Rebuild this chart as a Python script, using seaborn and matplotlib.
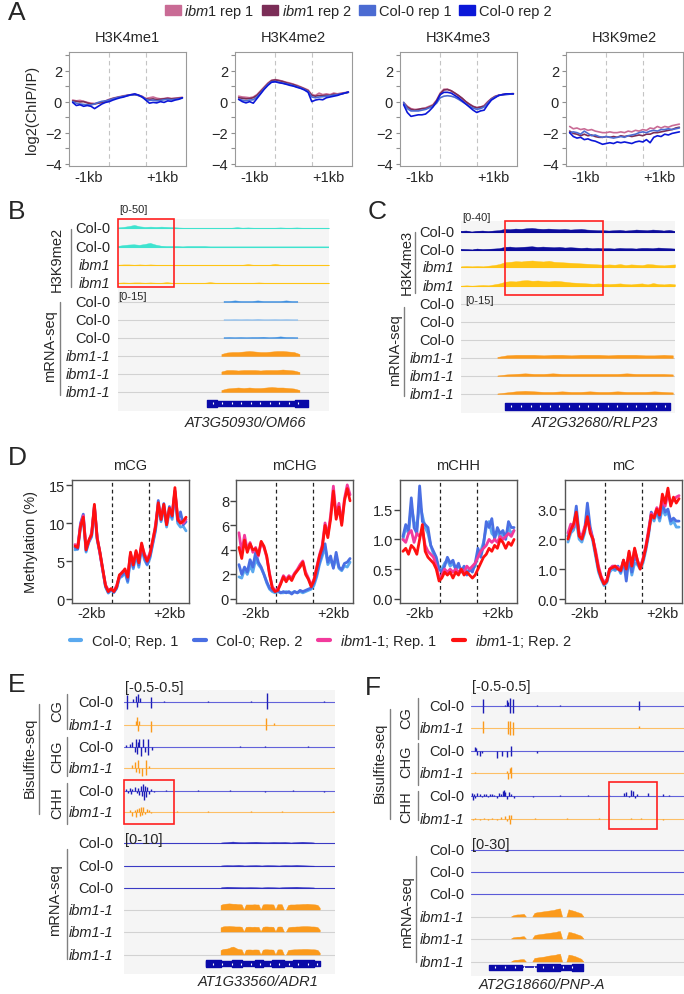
import numpy as np
import pandas as pd
import matplotlib
matplotlib.use("Agg")
import matplotlib.pyplot as plt
import seaborn as sns
from matplotlib.patches import Patch, Rectangle
from matplotlib.lines import Line2D

# ---------------- data ----------------
# panel A: ChIP metaplots, 31 bins (upstream 0-20, gene body 20-40, downstream 40-60)
a_x = np.arange(0, 61, 2)
a_marks = ["H3K4me1", "H3K4me2", "H3K4me3", "H3K9me2"]
a_samples = ["ibm1 rep 1", "ibm1 rep 2", "Col-0 rep 1", "Col-0 rep 2"]

me1_ibm1 = [0.10, 0.05, 0.08, 0.02, -0.05, -0.10, -0.12, -0.08, -0.05, 0.05, 0.15, 0.22, 0.28, 0.33, 0.38, 0.42, 0.45, 0.48, 0.42, 0.35, 0.20, 0.25, 0.30, 0.22, 0.18, 0.20, 0.25, 0.20, 0.22, 0.25, 0.28]
me1_ibm2 = [0.05, 0.02, -0.02, 0.00, -0.08, -0.15, -0.15, -0.10, -0.05, 0.02, 0.12, 0.20, 0.25, 0.30, 0.35, 0.40, 0.43, 0.45, 0.40, 0.30, 0.18, 0.15, 0.18, 0.12, 0.15, 0.18, 0.20, 0.18, 0.20, 0.22, 0.25]
me1_col1 = [0.00, -0.10, -0.15, -0.18, -0.20, -0.22, -0.15, -0.05, 0.02, 0.05, 0.10, 0.18, 0.25, 0.30, 0.35, 0.40, 0.42, 0.45, 0.40, 0.32, 0.15, 0.08, 0.10, 0.05, 0.08, 0.12, 0.15, 0.12, 0.15, 0.18, 0.22]
me1_col2 = [-0.05, -0.25, -0.20, -0.30, -0.25, -0.30, -0.45, -0.30, -0.15, -0.05, 0.00, 0.10, 0.18, 0.25, 0.30, 0.38, 0.45, 0.50, 0.42, 0.30, 0.10, -0.10, -0.05, -0.08, 0.00, -0.05, 0.05, 0.02, 0.10, 0.15, 0.25]

me2_ibm1 = [0.35, 0.30, 0.28, 0.25, 0.30, 0.45, 0.70, 0.95, 1.20, 1.38, 1.42, 1.38, 1.32, 1.25, 1.20, 1.12, 1.05, 0.95, 0.85, 0.75, 0.45, 0.40, 0.55, 0.45, 0.50, 0.45, 0.55, 0.50, 0.55, 0.58, 0.62]
me2_ibm2 = [0.25, 0.22, 0.18, 0.20, 0.25, 0.40, 0.65, 0.90, 1.15, 1.35, 1.40, 1.35, 1.30, 1.22, 1.15, 1.10, 1.00, 0.92, 0.82, 0.70, 0.40, 0.35, 0.40, 0.38, 0.42, 0.40, 0.48, 0.45, 0.50, 0.55, 0.60]
me2_col1 = [0.15, 0.10, 0.05, 0.10, 0.12, 0.30, 0.55, 0.85, 1.10, 1.28, 1.30, 1.25, 1.20, 1.15, 1.10, 1.02, 0.95, 0.88, 0.78, 0.65, 0.30, 0.25, 0.30, 0.32, 0.35, 0.38, 0.42, 0.45, 0.50, 0.55, 0.60]
me2_col2 = [0.15, 0.00, -0.08, 0.00, -0.10, 0.20, 0.50, 0.80, 1.05, 1.25, 1.28, 1.22, 1.18, 1.12, 1.05, 1.00, 0.92, 0.85, 0.75, 0.60, 0.00, 0.10, 0.15, 0.12, 0.25, 0.30, 0.35, 0.40, 0.48, 0.55, 0.62]

me3_ibm1 = [-0.05, -0.30, -0.45, -0.50, -0.50, -0.45, -0.40, -0.30, -0.20, 0.10, 0.55, 0.80, 0.80, 0.70, 0.55, 0.38, 0.20, 0.00, -0.15, -0.30, -0.38, -0.35, -0.25, 0.00, 0.20, 0.35, 0.42, 0.45, 0.48, 0.50, 0.50]
me3_ibm2 = [-0.10, -0.35, -0.50, -0.55, -0.50, -0.45, -0.45, -0.35, -0.25, 0.05, 0.50, 0.75, 0.78, 0.70, 0.55, 0.40, 0.22, 0.00, -0.18, -0.32, -0.40, -0.35, -0.30, -0.05, 0.18, 0.32, 0.40, 0.45, 0.48, 0.50, 0.52]
me3_col1 = [-0.05, -0.45, -0.60, -0.60, -0.60, -0.55, -0.50, -0.40, -0.30, -0.10, 0.25, 0.35, 0.38, 0.35, 0.28, 0.15, 0.00, -0.15, -0.30, -0.42, -0.50, -0.45, -0.35, -0.10, 0.15, 0.30, 0.40, 0.45, 0.45, 0.48, 0.50]
me3_col2 = [-0.20, -0.70, -0.95, -0.90, -0.85, -0.85, -0.80, -0.60, -0.35, 0.00, 0.45, 0.60, 0.60, 0.55, 0.40, 0.25, 0.05, -0.15, -0.35, -0.55, -0.70, -0.60, -0.55, -0.20, 0.10, 0.25, 0.40, 0.45, 0.50, 0.50, 0.50]

k9_ibm1 = [-1.60, -1.75, -1.70, -1.80, -1.75, -1.85, -1.80, -1.90, -1.95, -2.00, -2.00, -1.95, -2.00, -2.00, -1.95, -2.00, -1.90, -1.95, -1.85, -1.90, -1.80, -1.85, -1.70, -1.75, -1.60, -1.70, -1.60, -1.65, -1.55, -1.50, -1.45]
k9_ibm2 = [-1.90, -2.05, -2.10, -2.20, -2.10, -2.20, -2.15, -2.25, -2.30, -2.30, -2.25, -2.30, -2.25, -2.30, -2.20, -2.25, -2.20, -2.25, -2.20, -2.15, -2.20, -2.10, -2.10, -2.00, -2.00, -1.95, -1.90, -1.85, -1.80, -1.70, -1.65]
k9_col1 = [-2.00, -1.95, -2.00, -2.10, -1.90, -2.05, -2.20, -2.15, -2.25, -2.30, -2.25, -2.30, -2.35, -2.30, -2.25, -2.30, -2.20, -2.15, -2.10, -2.00, -1.95, -2.00, -1.90, -1.85, -1.90, -1.80, -1.80, -1.75, -1.80, -1.75, -1.70]
k9_col2 = [-2.00, -2.25, -2.35, -2.30, -2.45, -2.40, -2.50, -2.55, -2.65, -2.75, -2.70, -2.65, -2.70, -2.60, -2.65, -2.60, -2.65, -2.70, -2.60, -2.55, -2.60, -2.45, -2.65, -2.30, -2.20, -2.25, -2.10, -2.15, -2.05, -2.00, -1.95]

# panel D: methylation metaplots, 41 bins (upstream 0-20, gene 20-40, downstream 40-60)
d_x = np.arange(0, 60.1, 1.5)
d_contexts = ["mCG", "mCHG", "mCHH", "mC"]
d_samples = ["Col-0; Rep. 1", "Col-0; Rep. 2", "ibm1-1; Rep. 1", "ibm1-1; Rep. 2"]

cg_col1 = [6.5, 6.6, 9.4, 10.5, 6.2, 7.5, 8.2, 12.0, 7.8, 6.0, 3.8, 1.6, 0.8, 1.2, 0.9, 1.4, 2.8, 3.0, 3.5, 2.2, 5.6, 4.0, 5.8, 4.2, 6.8, 5.2, 4.5, 5.4, 7.2, 9.0, 12.2, 10.2, 12.0, 9.5, 11.5, 10.5, 14.0, 10.0, 9.5, 9.6, 9.0]
cg_col2 = [6.8, 6.6, 10.0, 11.2, 6.4, 7.6, 8.4, 12.3, 8.0, 6.1, 3.9, 1.7, 0.9, 1.3, 0.9, 1.5, 2.9, 3.2, 3.8, 2.4, 5.8, 4.2, 6.2, 4.5, 7.0, 5.5, 4.6, 5.6, 7.4, 9.2, 13.0, 10.4, 12.6, 9.8, 12.2, 10.8, 14.2, 10.3, 11.5, 9.8, 10.2]
cg_ibm1 = [7.2, 7.0, 9.8, 11.0, 6.8, 7.6, 8.8, 12.2, 8.2, 6.0, 3.8, 1.9, 1.2, 1.3, 1.1, 1.8, 3.0, 3.6, 3.8, 3.1, 6.0, 4.7, 6.2, 5.0, 7.2, 6.0, 5.2, 6.1, 7.6, 9.8, 12.5, 10.8, 12.2, 10.0, 11.8, 11.2, 14.3, 10.8, 10.2, 10.0, 10.5]
cg_ibm2 = [7.0, 6.8, 9.6, 10.8, 6.5, 7.8, 8.5, 12.5, 8.0, 6.2, 4.0, 1.8, 1.0, 1.4, 1.0, 1.6, 3.2, 3.5, 4.0, 2.9, 6.2, 4.5, 6.4, 4.8, 7.4, 5.8, 5.0, 5.9, 7.8, 9.5, 12.7, 10.5, 12.5, 9.8, 12.0, 11.0, 14.7, 10.5, 10.0, 10.3, 10.8]

chg_col1 = [1.8, 1.7, 2.4, 2.0, 2.7, 2.2, 3.2, 2.8, 2.5, 2.0, 1.3, 0.8, 0.6, 0.5, 0.6, 0.5, 0.5, 0.6, 0.5, 0.5, 0.6, 0.5, 0.6, 0.5, 0.6, 0.7, 0.8, 1.1, 1.8, 2.8, 3.5, 4.2, 2.8, 3.2, 2.6, 3.4, 2.5, 2.3, 2.7, 2.6, 3.0]
chg_col2 = [2.8, 2.0, 2.6, 2.2, 3.2, 2.6, 3.8, 3.0, 2.6, 2.0, 1.4, 0.9, 0.7, 0.6, 0.7, 0.5, 0.6, 0.5, 0.6, 0.4, 0.6, 0.5, 0.7, 0.6, 0.7, 0.8, 0.9, 1.3, 2.0, 3.0, 3.8, 4.5, 3.0, 3.5, 2.5, 3.8, 2.6, 2.4, 2.9, 3.0, 3.3]
chg_ibm1 = [5.4, 3.8, 5.2, 4.0, 4.6, 3.8, 4.2, 3.5, 4.6, 4.2, 3.4, 2.1, 1.0, 0.7, 0.8, 1.3, 1.9, 1.6, 1.9, 1.7, 2.1, 2.4, 2.8, 3.1, 2.2, 1.7, 1.1, 1.6, 2.6, 3.6, 4.4, 6.2, 5.2, 6.8, 9.2, 6.8, 7.8, 6.2, 8.2, 9.3, 8.5]
chg_ibm2 = [4.2, 3.3, 4.8, 3.8, 4.5, 4.0, 4.1, 3.6, 4.7, 4.3, 3.5, 2.0, 0.9, 0.6, 0.7, 1.2, 1.8, 1.4, 1.8, 1.5, 2.0, 2.3, 2.6, 3.0, 2.0, 1.6, 1.0, 1.5, 2.5, 3.5, 4.2, 6.0, 5.0, 6.5, 8.8, 6.5, 7.5, 6.0, 8.0, 9.0, 8.0]

chh_col1 = [1.0, 1.2, 1.1, 1.55, 1.3, 1.2, 1.6, 1.4, 1.2, 1.1, 0.9, 0.75, 0.65, 0.5, 0.5, 0.6, 0.65, 0.55, 0.6, 0.5, 0.55, 0.5, 0.5, 0.45, 0.5, 0.5, 0.55, 0.75, 0.8, 0.95, 1.2, 1.3, 1.1, 1.05, 1.15, 1.0, 1.1, 1.05, 1.2, 1.1, 1.15]
chh_col2 = [1.05, 1.25, 1.15, 1.7, 1.2, 1.1, 1.9, 1.3, 1.25, 1.2, 0.9, 0.8, 0.7, 0.5, 0.45, 0.55, 0.7, 0.6, 0.65, 0.5, 0.6, 0.45, 0.55, 0.4, 0.5, 0.45, 0.6, 0.85, 0.7, 0.9, 1.3, 1.2, 1.35, 1.0, 1.2, 1.1, 1.15, 1.0, 1.3, 1.2, 1.2]
chh_ibm1 = [1.0, 0.95, 1.1, 1.15, 0.95, 1.1, 1.05, 1.15, 0.9, 0.8, 0.75, 0.7, 0.55, 0.35, 0.4, 0.5, 0.45, 0.5, 0.45, 0.5, 0.45, 0.5, 0.45, 0.55, 0.5, 0.55, 0.6, 0.7, 0.8, 0.85, 0.9, 1.0, 0.95, 1.0, 0.95, 1.05, 1.0, 1.05, 1.1, 1.05, 1.15]
chh_ibm2 = [0.8, 0.85, 0.75, 0.9, 0.85, 0.75, 1.0, 1.25, 0.8, 0.7, 0.65, 0.6, 0.5, 0.3, 0.35, 0.45, 0.4, 0.45, 0.35, 0.45, 0.4, 0.5, 0.4, 0.45, 0.4, 0.35, 0.4, 0.5, 0.6, 0.7, 0.75, 0.85, 0.8, 0.9, 0.85, 1.0, 0.95, 0.85, 0.95, 0.9, 1.0]

mc_col1 = [1.9, 2.2, 2.3, 2.6, 2.0, 1.9, 2.2, 2.9, 2.3, 1.9, 1.4, 0.9, 0.65, 0.45, 0.55, 0.9, 1.0, 0.95, 1.05, 0.85, 1.2, 0.9, 1.3, 0.8, 1.2, 1.15, 1.0, 1.2, 1.6, 2.1, 2.8, 2.6, 2.9, 2.6, 3.0, 2.8, 2.9, 2.5, 2.6, 2.4, 2.4]
mc_col2 = [2.1, 2.3, 2.4, 3.1, 2.2, 2.0, 2.3, 3.2, 2.4, 2.0, 1.5, 1.0, 0.7, 0.5, 0.6, 1.0, 1.05, 1.0, 1.1, 0.9, 1.3, 0.6, 1.4, 0.9, 1.5, 1.2, 1.05, 1.3, 1.7, 2.2, 2.9, 2.7, 3.0, 2.7, 3.2, 2.9, 3.0, 2.6, 2.7, 2.6, 2.6]
mc_ibm1 = [2.2, 2.5, 2.4, 2.8, 2.2, 2.1, 2.4, 2.6, 2.3, 2.0, 1.6, 1.1, 0.75, 0.55, 0.65, 1.0, 1.1, 1.1, 1.05, 1.0, 1.25, 1.05, 1.55, 1.15, 1.65, 1.3, 1.05, 1.35, 1.75, 2.3, 2.85, 2.75, 3.05, 2.9, 3.3, 3.1, 3.5, 3.2, 3.3, 3.4, 3.45]
mc_ibm2 = [2.0, 2.3, 2.5, 2.9, 2.1, 2.0, 2.3, 2.75, 2.2, 2.0, 1.5, 1.0, 0.7, 0.5, 0.6, 1.0, 1.05, 1.1, 1.0, 0.95, 1.3, 1.0, 1.6, 1.1, 1.7, 1.3, 1.0, 1.3, 1.7, 2.2, 2.8, 2.7, 3.0, 2.8, 3.5, 3.2, 3.7, 3.1, 3.4, 3.2, 3.35]

# panel B: H3K9me2 [0-50] coverage (40 bins over the locus, % of window) and mRNA [0-15]
b_k9_col1 = [2, 4, 7, 11, 6, 4, 5, 4, 5, 4, 3, 2, 1, 1, 1, 1, 1, 1, 1, 1, 1, 1, 3, 1, 2, 1, 1, 1, 1, 1, 2, 1, 1, 2, 1, 1, 1, 1, 1, 1]
b_k9_col2 = [2, 5, 7, 8, 6, 9, 13, 7, 3, 1, 1, 1, 0, 1, 1, 1, 1, 0, 1, 1, 1, 1, 1, 1, 1, 1, 1, 1, 1, 1, 1, 1, 1, 1, 1, 1, 1, 1, 1, 1]
b_k9_ibm1 = [1, 2, 2, 1, 2, 1, 2, 1, 1, 1, 1, 1, 1, 1, 1, 1, 1, 1, 1, 1, 1, 1, 1, 1, 3, 1, 1, 1, 1, 4, 1, 1, 1, 1, 1, 1, 1, 1, 1, 1]
b_k9_ibm2 = [1, 2, 1, 2, 2, 1, 2, 1, 1, 3, 1, 1, 1, 1, 1, 1, 1, 3, 1, 1, 1, 1, 1, 1, 1, 1, 2, 1, 1, 1, 1, 1, 1, 1, 1, 1, 1, 1, 1, 1]
b_rna_col1 = [1, 1, 1.5, 1, 1, 1, 1.5, 1, 1, 1, 1, 1.5, 1, 1]
b_rna_col2 = [0.8, 0.8, 1, 0.8, 1, 0.8, 1.2, 0.8, 0.8, 1, 0.8, 1, 0.8, 0.8]
b_rna_col3 = [0.8, 1, 0.8, 1, 0.8, 1, 1, 1.2, 0.8, 1, 1.5, 1, 1, 0.8]
b_rna_ibm1 = [2, 3.5, 4, 4, 4.5, 5, 4.5, 4, 4, 4.5, 5, 5, 4.5, 4, 2]
b_rna_ibm2 = [2.5, 4, 4, 3.5, 4, 4, 4, 3.5, 4, 4, 4, 4.5, 4, 3.5, 2]
b_rna_ibm3 = [2, 3.5, 4, 4.5, 4, 4.5, 4, 4, 4.5, 5, 4.5, 4.5, 4, 3.5, 2]

# panel C: H3K4me3 [0-40] coverage and mRNA [0-15]
c_k4_col1 = [2, 3, 0, 2, 3, 1, 3, 4, 8, 7, 9, 8, 10, 11, 9, 8, 9, 8, 7, 8, 6, 7, 8, 6, 5, 4, 4, 3, 4, 5, 3, 4, 6, 5, 4, 6, 5, 3, 5, 2]
c_k4_col2 = [2, 1, 0, 3, 1, 2, 3, 4, 8, 9, 7, 8, 9, 10, 8, 9, 8, 7, 8, 6, 7, 6, 5, 6, 4, 5, 4, 4, 3, 5, 4, 4, 3, 5, 5, 4, 6, 5, 4, 3]
c_k4_ibm1 = [2, 3, 2, 3, 2, 4, 6, 9, 15, 16, 18, 17, 19, 20, 18, 17, 19, 16, 15, 14, 13, 12, 11, 10, 9, 8, 7, 8, 7, 9, 6, 8, 7, 6, 9, 8, 6, 5, 7, 8]
c_k4_ibm2 = [1, 2, 1, 2, 3, 2, 5, 8, 13, 15, 14, 17, 18, 16, 17, 15, 14, 16, 15, 13, 11, 10, 9, 8, 7, 8, 7, 6, 7, 8, 6, 5, 7, 8, 5, 9, 6, 5, 7, 5]
c_rna_ibm1 = [1, 2.5, 3, 3, 3, 2.5, 3, 3, 2.5, 3, 3, 3, 2.5, 3, 3, 3, 2.5, 2.5, 3, 2.5]
c_rna_ibm2 = [0.5, 1.5, 2, 2.5, 2, 2, 2.5, 2, 2, 2, 2, 2, 2, 2, 2.5, 2, 2, 2, 2, 1.5]
c_rna_ibm3 = [0.5, 1.5, 2.5, 3, 2.5, 2, 2, 2.5, 2, 2, 2.5, 2, 2, 2.5, 2, 2, 2, 2.5, 2, 1.5]

# panel E: bisulfite-seq [-0.5-0.5] (position %, value) and mRNA [0-10]
e_cg_col_pos = [1.5, 1.5, 4.5, 5.5, 6, 6.5, 7.5, 13, 13, 19, 40, 60, 68, 68, 95]
e_cg_col_val = [0.4, -0.4, 0.15, 0.35, -0.25, 0.45, 0.2, 0.3, -0.35, 0.05, 0.04, 0.04, 0.5, -0.4, 0.04]
e_cg_ibm_pos = [5.5, 6, 6.5, 7, 13, 13, 67.5, 67.5, 71]
e_cg_ibm_val = [0.2, 0.45, -0.35, 0.25, 0.2, -0.4, 0.4, -0.25, 0.1]
e_chg_col_pos = [1, 3, 4, 5, 5.5, 6, 6.5, 7, 8, 9, 10, 11.5, 11.5, 13.5, 55, 67, 87]
e_chg_col_val = [0.1, 0.15, 0.3, -0.3, 0.45, -0.4, 0.3, 0.45, -0.5, 0.45, -0.3, 0.45, -0.45, -0.15, 0.04, 0.06, 0.04]
e_chg_ibm_pos = [4, 5, 5.5, 6.5, 7, 8.5, 10.5, 10.5, 12]
e_chg_ibm_val = [0.15, 0.35, -0.2, 0.45, -0.3, -0.45, 0.45, -0.4, 0.1]
e_chh_col_pos = [1, 2, 3, 3.5, 4, 5, 6, 6.5, 7, 8, 8.5, 9, 9.5, 10, 10.5, 11, 12, 13, 14, 20, 35, 50, 67, 80, 95]
e_chh_col_val = [0.1, -0.1, 0.15, -0.15, 0.1, 0.2, -0.1, 0.15, -0.2, 0.25, -0.3, 0.4, -0.5, 0.3, -0.35, 0.2, -0.15, 0.1, -0.05, 0.03, 0.03, 0.03, -0.06, 0.03, -0.05]
e_chh_ibm_pos = [3, 4, 5, 5.5, 6, 7, 7.5, 8, 8.5, 9, 10, 11, 12, 13, 25, 40, 60, 75, 99]
e_chh_ibm_val = [0.1, -0.2, 0.1, -0.3, 0.15, 0.2, -0.25, 0.25, -0.15, 0.3, -0.1, 0.15, 0.1, -0.05, 0.04, 0.03, 0.03, 0.04, 0.05]
e_rna_col1 = [0.3, 0.5, 0.8, 0.5, 0.4, 0.6, 0.7, 0.5, 0.4, 0.6, 0.5, 0.6, 0.3, 0.5, 0.7, 0.5, 0.3]
e_rna_col2 = [0.3, 0.5, 0.4, 0.6, 0.3, 0.4, 0.5, 0.3, 0.5, 0.4, 0.3, 0.5, 0.4, 0.6, 0.4, 0.3, 0.2]
e_rna_col3 = [0.4, 0.7, 0.6, 0.5, 0.4, 0.5, 0.4, 0.3, 0.5, 0.4, 0.3, 0.5, 0.6, 0.7, 0.5, 0.4, 0.3]
e_rna_ibm1 = [2.5, 3, 3.2, 3.3, 3.4, 3.3, 3.2, 3.2, 3, 3, 2.8, 0, 2.8, 2.8, 2.8, 2.8, 2.9, 2.8, 2.8, 0, 2.8, 3, 3, 2.9, 2.9, 2.8, 0, 2.9, 3, 2.9, 0, 0, 2.5, 2.8, 2.8, 2.8, 2.9, 2.9, 3, 3.1, 3.1, 3.2, 3.1, 3, 2.9, 2.8, 2.5, 1]
e_rna_ibm2 = [2.3, 2.8, 3, 3, 3.1, 3, 2.9, 2.8, 2.8, 2.8, 2.6, 0, 2.6, 2.7, 2.7, 2.6, 2.7, 2.6, 2.6, 0, 2.6, 2.8, 2.8, 2.7, 2.7, 2.6, 0, 2.7, 2.8, 2.7, 0, 0, 2.3, 2.6, 2.7, 2.7, 2.8, 2.8, 2.9, 3, 3, 3, 2.9, 2.8, 2.8, 2.7, 2.4, 1]
e_rna_ibm3 = [2.5, 3, 3.2, 3.3, 3.6, 4.2, 4.4, 3.8, 3.2, 3, 2.8, 0, 2.7, 2.8, 2.8, 2.7, 2.8, 2.8, 2.7, 0, 2.7, 2.9, 2.9, 2.8, 2.8, 2.7, 0, 2.8, 2.9, 2.8, 0, 0, 2.5, 2.7, 2.8, 2.9, 2.9, 3, 3, 3.1, 3.1, 3.1, 3, 2.9, 2.9, 2.8, 2.5, 1]

# panel F: bisulfite-seq [-0.5-0.5] and mRNA [0-30]
f_cg_col_pos = [5.6, 5.6, 16, 17, 17.5, 18.5, 18.5, 19.5, 19.5, 31, 42, 79, 79]
f_cg_col_val = [0.4, -0.4, 0.05, 0.35, 0.2, 0.45, -0.4, 0.4, -0.4, 0.08, 0.08, 0.3, -0.2]
f_cg_ibm_pos = [5.6, 5.6, 17.5, 17.5, 18.5, 18.5, 19.5, 19.5, 79]
f_cg_ibm_val = [0.4, -0.3, 0.4, -0.35, 0.4, -0.4, 0.35, -0.4, 0.12]
f_chg_col_pos = [2, 2.5, 3, 4, 5, 12, 14.5, 17, 19, 19, 31]
f_chg_col_val = [0.25, 0.15, -0.2, -0.3, -0.1, -0.4, -0.3, -0.35, 0.3, -0.3, -0.1]
f_chg_ibm_pos = [2, 17, 17.5, 18.5, 19, 19]
f_chg_ibm_val = [0.05, 0.1, -0.35, 0.3, 0.35, -0.3]
f_chh_col_pos = [0.5, 1, 1.5, 2, 3, 4, 5, 6, 7, 8, 9, 10, 11, 12, 13, 14, 15, 15.5, 16, 17, 18, 19, 20, 29, 42, 55, 65, 72, 73, 74, 75, 76, 77, 78, 83, 90, 93]
f_chh_col_val = [0.15, -0.2, 0.1, -0.1, 0.15, 0.1, -0.05, 0.1, 0.12, -0.08, 0.1, 0.12, 0.08, -0.1, 0.15, 0.1, 0.3, 0.35, 0.2, -0.15, 0.2, 0.1, -0.1, -0.04, 0.04, 0.04, 0.05, 0.15, 0.2, -0.05, 0.35, 0.3, -0.1, 0.1, 0.15, 0.1, 0.08]
f_chh_ibm_pos = [1, 2, 4, 6, 8, 10, 12, 14, 16, 17, 18, 18.5, 19, 30, 45, 60, 75, 80, 90]
f_chh_ibm_val = [-0.08, 0.05, -0.05, 0.05, -0.05, 0.05, -0.08, 0.1, 0.15, -0.1, 0.25, -0.25, 0.2, 0.03, 0.03, 0.03, 0.03, 0.04, -0.05]
f_rna_ibm1 = [0, 2, 3, 3.5, 3.5, 4, 4.5, 0, 0, 0, 0, 6, 7, 7.5, 8, 8.5, 9, 9.5, 10, 10.5, 11, 12, 13, 13.5, 0, 0, 0, 12, 11, 10, 9, 7.5, 6.5, 5, 0]
f_rna_ibm2 = [0, 2, 2.5, 3, 3, 3.5, 4, 0, 0, 0, 0, 5.5, 6.5, 7, 7.5, 8, 8.5, 9, 9.5, 10, 10.5, 11, 12, 12.5, 0, 0, 0, 11, 10.5, 9.5, 8.5, 7, 6, 4.5, 0]
f_rna_ibm3 = [0, 2, 3, 3, 3.5, 4, 4, 0, 0, 0, 0, 6, 6.5, 7, 7.5, 8, 8.5, 9.5, 10, 10.5, 11, 11.5, 12.5, 13, 0, 0, 0, 11.5, 11, 10, 9, 7.5, 6, 4.5, 0]

# ---------------- style ----------------
sns.set_style("white")
plt.rcParams["font.family"] = ["Liberation Sans", "DejaVu Sans"]
plt.rcParams["mathtext.fontset"] = "custom"
plt.rcParams["mathtext.rm"] = "Liberation Sans"
plt.rcParams["mathtext.it"] = "Liberation Sans:italic"

W, H = 684, 995
fig = plt.figure(figsize=(W / 100, H / 100), dpi=100)


def box(l, t, w, h):
    return [l / W, 1 - (t + h) / H, w / W, h / H]


def txt(x, y, s, **kw):
    kw.setdefault("va", "center")
    fig.text(x / W, 1 - y / H, s, **kw)


def gline(x, y0, y1):
    fig.add_artist(Line2D([x / W, x / W], [1 - y0 / H, 1 - y1 / H], color="#808080", lw=1.0))


FS = 10.5

# ---------------- panel A ----------------
a_colors = ["#c96b95", "#7b2d57", "#4b6bd2", "#0b17d8"]
a_series = [
    [me1_ibm1, me1_ibm2, me1_col1, me1_col2],
    [me2_ibm1, me2_ibm2, me2_col1, me2_col2],
    [me3_ibm1, me3_ibm2, me3_col1, me3_col2],
    [k9_ibm1, k9_ibm2, k9_col1, k9_col2],
]
a_left = [69, 235, 400, 566]
for i, mark in enumerate(a_marks):
    ax = fig.add_axes(box(a_left[i], 53, 117, 114))
    df = pd.concat([pd.DataFrame({"x": a_x, "y": s, "sample": n})
                    for s, n in zip(a_series[i], a_samples)])
    sns.lineplot(data=df, x="x", y="y", hue="sample", hue_order=a_samples,
                 palette=a_colors, estimator=None, lw=1.2, legend=False, ax=ax)
    for v in (20, 40):
        ax.axvline(v, color="#c4c4c4", ls=(0, (4, 3)), lw=0.8, zorder=0)
    ax.set_xlim(-2, 62)
    ax.set_ylim(-4.15, 3.2)
    ax.set_yticks([-4, -2, 0, 2])
    ax.set_yticks([-3, -1, 1, 3], minor=True)
    ax.set_xticks([9, 49])
    ax.set_xticklabels(["-1kb", "+1kb"])
    ax.tick_params(axis="y", which="both", left=True, length=3, width=0.8,
                   color="#909090", labelsize=FS, pad=2)
    ax.tick_params(axis="x", length=0, labelsize=FS, pad=3)
    ax.set_xlabel("")
    ax.set_ylabel("")
    ax.set_title(mark, fontsize=FS, pad=8)
    for s in ax.spines.values():
        s.set_color("#9a9a9a")
        s.set_linewidth(0.8)

txt(32, 110, "log2(ChIP/IP)", rotation=90, ha="center", fontsize=FS)
a_labels = [r"$\mathit{ibm1}$ rep 1", r"$\mathit{ibm1}$ rep 2", "Col-0 rep 1", "Col-0 rep 2"]
fig.legend(handles=[Patch(color=c) for c in a_colors], labels=a_labels, ncol=4,
           loc="center", bbox_to_anchor=(358 / W, 1 - 12 / H), frameon=False,
           fontsize=FS, handlelength=1.1, handleheight=0.75, handletextpad=0.25,
           columnspacing=0.5, borderpad=0)

# ---------------- panel D ----------------
d_colors = ["#5aa9ef", "#4a6fe3", "#f23a9c", "#ff1010"]
d_series = [
    [cg_col1, cg_col2, cg_ibm1, cg_ibm2],
    [chg_col1, chg_col2, chg_ibm1, chg_ibm2],
    [chh_col1, chh_col2, chh_ibm1, chh_ibm2],
    [mc_col1, mc_col2, mc_ibm1, mc_ibm2],
]
d_left = [72, 236, 400, 565]
d_ylim = [(-0.5, 15.7), (-0.33, 9.7), (-0.07, 2.0), (-0.13, 3.97)]
d_ticks = [[0, 5, 10, 15], [0, 2, 4, 6, 8], [0.0, 0.5, 1.0, 1.5], [0.0, 1.0, 2.0, 3.0]]
d_fmt = ["{:.0f}", "{:.0f}", "{:.1f}", "{:.1f}"]
for i, ctx in enumerate(d_contexts):
    ax = fig.add_axes(box(d_left[i], 481, 117, 123))
    df = pd.concat([pd.DataFrame({"x": d_x, "y": s, "sample": n})
                    for s, n in zip(d_series[i], d_samples)])
    sns.lineplot(data=df, x="x", y="y", hue="sample", hue_order=d_samples,
                 palette=d_colors, estimator=None, lw=2.0, legend=False, ax=ax)
    for v in (20, 40):
        ax.axvline(v, color="#222222", ls=(0, (3, 2.5)), lw=0.9, zorder=0)
    ax.set_xlim(-1.6, 61.6)
    ax.set_ylim(*d_ylim[i])
    ax.set_yticks(d_ticks[i])
    ax.set_yticklabels([d_fmt[i].format(t) for t in d_ticks[i]])
    ax.set_xticks([9, 51])
    ax.set_xticklabels(["-2kb", "+2kb"])
    ax.tick_params(axis="y", left=True, length=4, width=1, color="#444444",
                   labelsize=FS, pad=1)
    ax.tick_params(axis="x", length=0, labelsize=FS, pad=2)
    ax.set_xlabel("")
    ax.set_ylabel("")
    ax.set_title(ctx, fontsize=FS, pad=8)
    for s in ax.spines.values():
        s.set_color("#555555")
        s.set_linewidth(1.0)

txt(31, 542, "Methylation (%)", rotation=90, ha="center", fontsize=FS)
d_labels = ["Col-0; Rep. 1", "Col-0; Rep. 2",
            r"$\mathit{ibm1}$-$\mathit{1}$; Rep. 1", r"$\mathit{ibm1}$-$\mathit{1}$; Rep. 2"]
fig.legend(handles=[Line2D([], [], color=c, lw=3) for c in d_colors], labels=d_labels,
           ncol=4, loc="center", bbox_to_anchor=(321 / W, 1 - 642 / H), frameon=False,
           fontsize=FS, handlelength=0.8, handletextpad=0.7, columnspacing=1.1, borderpad=0)

# ---------------- browser tracks ----------------
ORANGE = "#fb9a1c"
GREY = "#d2d2d2"


def track_axes(x0, x1, y0, y1):
    ax = fig.add_axes(box(x0, y0, x1 - x0, y1 - y0))
    ax.set_xlim(0, 100)
    ax.set_ylim(y1, y0)
    ax.set_facecolor("#f5f5f5")
    ax.set_xticks([])
    ax.set_yticks([])
    for s in ax.spines.values():
        s.set_visible(False)
    return ax


def coverage(ax, span, vals, base, scale, color, line):
    ax.axhline(base, color=line, lw=0.8, zorder=1)
    if len(vals) == 0:
        return
    v = np.array(vals, dtype=float)
    xs = np.linspace(span[0], span[1], len(v))
    ax.fill_between(xs, base, base - v * scale, where=v > 0, interpolate=True,
                    color=color, lw=0.3, zorder=2)


def spikes(ax, pos, vals, base, scale, color, line):
    ax.axhline(base, color=line, lw=0.8, zorder=1)
    ax.vlines(pos, base, base - np.array(vals) * scale, color=color, lw=1.0, zorder=2)


def gene(ax, y, span, thin, thick, color="#0a0aa8", marks=True):
    ax.hlines(y, span[0], span[1], color=color, lw=1.2)
    ax.broken_barh([(s, e - s) for s, e in thin], (y - 2.5, 5), color=color)
    ax.broken_barh([(s, e - s) for s, e in thick], (y - 3.5, 7), color=color)
    if marks:
        ax.vlines(np.arange(span[0] + 3, span[1] - 1, 4.5), y - 0.6, y + 0.6,
                  color="white", lw=0.8)


def red_box(ax, x0, x1, y0, y1):
    ax.add_patch(Rectangle((x0, y0), x1 - x0, y1 - y0, fill=False,
                           ec="#ff2020", lw=1.2, clip_on=False, zorder=5))


def row_labels(x, ys, names):
    for y, n in zip(ys, names):
        txt(x, y, n, ha="right", fontsize=FS,
            style="italic" if n.startswith("ibm") else "normal")


# panel B
CYAN = "#3fe3cf"
GOLD = "#ffc414"
axb = track_axes(118, 329, 220, 412)
b_chip_y = [229, 248, 266, 284]
b_rna_y = [303, 321, 339, 357, 375, 393]
for y, v, c in zip(b_chip_y, [b_k9_col1, b_k9_col2, b_k9_ibm1, b_k9_ibm2],
                   [CYAN, CYAN, GOLD, GOLD]):
    coverage(axb, (0, 100), v, y, 14 / 50, c, c)
for y, v, c in zip(b_rna_y[:3], [b_rna_col1, b_rna_col2, b_rna_col3],
                   ["#3c8fe2", "#92c2f0", "#3c8fe2"]):
    coverage(axb, (50, 85), v, y, 16 / 15, c, GREY)
for y, v in zip(b_rna_y[3:], [b_rna_ibm1, b_rna_ibm2, b_rna_ibm3]):
    coverage(axb, (49, 86), v, y, 15 / 15, ORANGE, GREY)
gene(axb, 404, (42, 90), [(47, 84)], [(42, 47), (84, 90)])
red_box(axb, 0, 26.5, 220, 288)
row_labels(110, b_chip_y, ["Col-0", "Col-0", "ibm1", "ibm1"])
row_labels(110, b_rna_y, ["Col-0", "Col-0", "Col-0", "ibm1-1", "ibm1-1", "ibm1-1"])
txt(119, 210, "[0-50]", fontsize=8)
txt(118, 297, "[0-15]", fontsize=8)
txt(57, 259, "H3K9me2", rotation=90, ha="center", fontsize=FS)
gline(71, 230, 288)
txt(50, 346, "mRNA-seq", rotation=90, ha="center", fontsize=FS)
gline(60, 303, 396)
txt(245, 423, "AT3G50930/OM66", ha="center", fontsize=FS, style="italic")

# panel C
NAVY = "#0c0c9c"
axc = track_axes(461, 675, 222, 414)
c_chip_y = [233, 251, 268, 287]
c_rna_y = [305, 323, 341, 359, 377, 395]
for y, v, c in zip(c_chip_y, [c_k4_col1, c_k4_col2, c_k4_ibm1, c_k4_ibm2],
                   [NAVY, NAVY, GOLD, GOLD]):
    coverage(axc, (0, 100), v, y, 13 / 40, c, c)
for y in c_rna_y[:3]:
    coverage(axc, (17, 99), [], y, 16 / 15, ORANGE, GREY)
for y, v in zip(c_rna_y[3:], [c_rna_ibm1, c_rna_ibm2, c_rna_ibm3]):
    coverage(axc, (17, 99), v, y, 16 / 15, ORANGE, GREY)
gene(axc, 407, (20.5, 97.7), [], [(20.5, 97.7)])
red_box(axc, 20.6, 66.4, 222, 296)
row_labels(454, c_chip_y, ["Col-0", "Col-0", "ibm1", "ibm1"])
row_labels(454, c_rna_y, ["Col-0", "Col-0", "Col-0", "ibm1-1", "ibm1-1", "ibm1-1"])
txt(462, 218, "[0-40]", fontsize=8)
txt(465, 301, "[0-15]", fontsize=8)
txt(407, 262, "H3K4me3", rotation=90, ha="center", fontsize=FS)
gline(415, 233, 294)
txt(395, 350, "mRNA-seq", rotation=90, ha="center", fontsize=FS)
gline(404, 308, 397)
txt(595, 423, "AT2G32680/RLP23", ha="center", fontsize=FS, style="italic")

# panel E
BLUE = "#1c1cb6"
BLUE_LINE = "#6262da"
ORANGE_LINE = "#fdbf66"
axe = track_axes(124, 335, 691, 975)
e_bs_y = [703, 726, 748, 769, 792, 813]
e_rna_y = [844, 867, 889, 911, 933, 956]
e_bs = [(e_cg_col_pos, e_cg_col_val), (e_cg_ibm_pos, e_cg_ibm_val),
        (e_chg_col_pos, e_chg_col_val), (e_chg_ibm_pos, e_chg_ibm_val),
        (e_chh_col_pos, e_chh_col_val), (e_chh_ibm_pos, e_chh_ibm_val)]
for k, (y, (p, v)) in enumerate(zip(e_bs_y, e_bs)):
    if k % 2 == 0:
        spikes(axe, p, v, y, 18, BLUE, BLUE_LINE)
    else:
        spikes(axe, p, v, y, 18, ORANGE, ORANGE_LINE)
for y, v in zip(e_rna_y[:3], [e_rna_col1, e_rna_col2, e_rna_col3]):
    coverage(axe, (46, 90), v, y, 1.8, "#2a2ac0", "#3a3ac4")
for y, v in zip(e_rna_y[3:], [e_rna_ibm1, e_rna_ibm2, e_rna_ibm3]):
    coverage(axe, (46, 93), v, y, 1.8, ORANGE, GREY)
gene(axe, 965, (39, 93), [(39, 93)], [(39, 46), (51, 56), (62, 66), (70, 76), (80, 90)])
red_box(axe, 0, 23.7, 781, 825)
row_labels(113, e_bs_y, ["Col-0", "ibm1-1"] * 3)
row_labels(113, e_rna_y, ["Col-0", "Col-0", "Col-0", "ibm1-1", "ibm1-1", "ibm1-1"])
txt(125, 688, "[-0.5-0.5]", fontsize=FS)
txt(125, 840, "[0-10]", fontsize=FS)
for lab, yc, y0, y1 in [("CG", 711, 695, 730), ("CHG", 757, 738, 777), ("CHH", 803, 784, 825)]:
    txt(57, yc, lab, rotation=90, ha="center", fontsize=FS)
    gline(67, y0, y1)
txt(30, 758, "Bisulfite-seq", rotation=90, ha="center", fontsize=FS)
gline(39, 705, 815)
txt(55, 900, "mRNA-seq", rotation=90, ha="center", fontsize=FS)
gline(67, 850, 960)
txt(258, 982, "AT1G33560/ADR1", ha="center", fontsize=FS, style="italic")

# panel F
axf = track_axes(471, 684, 693, 977)
f_bs_y = [707, 729, 752, 774, 797, 820]
f_rna_y = [851, 873, 895, 918, 940, 963]
f_bs = [(f_cg_col_pos, f_cg_col_val), (f_cg_ibm_pos, f_cg_ibm_val),
        (f_chg_col_pos, f_chg_col_val), (f_chg_ibm_pos, f_chg_ibm_val),
        (f_chh_col_pos, f_chh_col_val), (f_chh_ibm_pos, f_chh_ibm_val)]
for k, (y, (p, v)) in enumerate(zip(f_bs_y, f_bs)):
    if k % 2 == 0:
        spikes(axf, p, v, y, 18, BLUE, BLUE_LINE)
    else:
        spikes(axf, p, v, y, 18, ORANGE, ORANGE_LINE)
for y in f_rna_y[:3]:
    coverage(axf, (19, 53), [], y, 0.6, ORANGE, "#5a5ad8")
for y, v in zip(f_rna_y[3:], [f_rna_ibm1, f_rna_ibm2, f_rna_ibm3]):
    coverage(axf, (19, 53), v, y, 0.6, ORANGE, GREY)
gene(axf, 968, (8.5, 52.5), [(8.5, 24), (42, 47.5)], [(31, 42), (47.5, 52.5)])
red_box(axf, 64.8, 87.3, 783, 830)
row_labels(464, f_bs_y, ["Col-0", "ibm1-1"] * 3)
row_labels(464, f_rna_y, ["Col-0", "Col-0", "Col-0", "ibm1-1", "ibm1-1", "ibm1-1"])
txt(472, 687, "[-0.5-0.5]", fontsize=FS)
txt(472, 845, "[0-30]", fontsize=FS)
for lab, yc, y0, y1 in [("CG", 718, 699, 740), ("CHG", 762, 744, 786), ("CHH", 807, 792, 821)]:
    txt(406, yc, lab, rotation=90, ha="center", fontsize=FS)
    gline(418, y0, y1)
txt(380, 763, "Bisulfite-seq", rotation=90, ha="center", fontsize=FS)
gline(390, 710, 820)
txt(407, 912, "mRNA-seq", rotation=90, ha="center", fontsize=FS)
gline(416, 857, 963)
txt(542, 985, "AT2G18660/PNP-A", ha="center", fontsize=FS, style="italic")

# panel letters
for lab, x, y in [("A", 8, 13), ("B", 8, 212), ("C", 368, 212), ("D", 8, 458),
                  ("E", 8, 685), ("F", 365, 688)]:
    txt(x, y, lab, fontsize=19, ha="left")

fig.savefig("out.png", dpi=100)
